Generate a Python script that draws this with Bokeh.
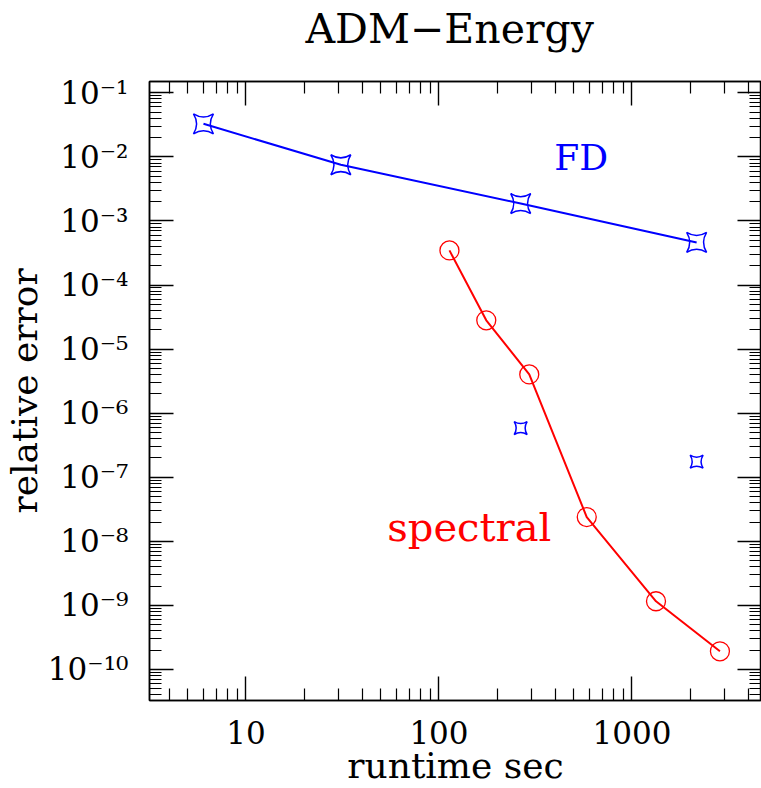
import math
from bokeh.plotting import figure
from bokeh.models import LogAxis, FixedTicker, Range1d, Title
from bokeh.core.properties import value
from bokeh.embed import file_html
from bokeh.resources import INLINE

# ---- data ----
fd_runtime = [6.02, 31.0, 265.0, 2163.0]
fd_error = [3.28e-2, 7.53e-3, 1.87e-3, 4.62e-4]

fd_extra_runtime = [265.0, 2163.0]
fd_extra_error = [5.86e-7, 1.75e-7]

spec_runtime = [113.3, 175.8, 293.6, 583.0, 1332.0, 2856.0]
spec_error = [3.47e-4, 2.81e-5, 4.03e-6, 2.39e-8, 1.16e-9, 1.92e-10]

x_tick_values = [10, 100, 1000]
x_tick_labels = ["10", "100", "1000"]
y_tick_exponents = [-1, -2, -3, -4, -5, -6, -7, -8, -9, -10]

title_text = "ADM\u2212Energy"
x_label = "runtime sec"
y_label = "relative error"
fd_label = "FD"
fd_label_pos = (546.0, 9.8e-3)
spec_label = "spectral"
spec_label_pos = (143.6, 1.66e-8)

x_limits = (10 ** 0.5, 4690.0)
y_limits = (3.28e-11, 0.150)

FONT = "DejaVu Serif"
BLUE = "#0000ff"
RED = "#ff0000"

sup = str.maketrans("-0123456789", "\u207b\u2070\u00b9\u00b2\u00b3\u2074\u2075\u2076\u2077\u2078\u2079")
y_tick_values = [float("1e%d" % e) for e in y_tick_exponents]
y_tick_labels = ["10" + str(e).translate(sup) for e in y_tick_exponents]

x_minor = [m * 10.0 ** k for k in range(0, 4) for m in range(2, 10)
           if x_limits[0] <= m * 10.0 ** k <= x_limits[1]]
y_minor = [m * float("1e%d" % k) for k in range(-11, 0) for m in range(2, 10)
           if y_limits[0] <= m * float("1e%d" % k) <= y_limits[1]]

x_ticker = FixedTicker(ticks=x_tick_values, minor_ticks=x_minor)
y_ticker = FixedTicker(ticks=y_tick_values, minor_ticks=y_minor)

p = figure(width=761, height=788, x_axis_type="log", y_axis_type="log",
           x_range=Range1d(*x_limits), y_range=Range1d(*y_limits),
           output_backend="svg", toolbar_location=None,
           min_border_left=148, min_border_right=0, min_border_top=81,
           min_border_bottom=88)

p.background_fill_color = "white"
p.border_fill_color = "white"
p.outline_line_color = "black"
p.outline_line_width = 1.5
p.xgrid.grid_line_color = None
p.ygrid.grid_line_color = None

p.title.text = title_text
p.title.text_font = FONT
p.title.text_font_size = "41px"
p.title.text_font_style = "normal"
p.title.text_color = "black"
p.title.align = "left"
p.title.offset = 156
p.title.standoff = 2


def style_axis(ax, ticker, show_labels):
    ax.ticker = ticker
    ax.major_tick_in = 24
    ax.major_tick_out = 0
    ax.minor_tick_in = 12
    ax.minor_tick_out = 0
    ax.axis_line_color = "black"
    ax.axis_line_width = 1.5
    ax.major_tick_line_color = "black"
    ax.major_tick_line_width = 1.4
    ax.minor_tick_line_color = "black"
    ax.minor_tick_line_width = 1.2
    if not show_labels:
        ax.major_label_text_font_size = "1px"
        ax.major_label_text_color = None
        ax.major_label_standoff = 0


xa = p.xaxis[0]
style_axis(xa, x_ticker, True)
xa.major_label_overrides = {v: t for v, t in zip(x_tick_values, x_tick_labels)}
xa.major_label_text_font = FONT
xa.major_label_text_font_size = "31px"
xa.major_label_text_color = "black"
xa.major_label_standoff = 20
xa.axis_label = x_label
xa.axis_label_text_font = FONT
xa.axis_label_text_font_size = "36px"
xa.axis_label_text_font_style = "normal"
xa.axis_label_text_color = "black"
xa.axis_label_standoff = -2

ya = p.yaxis[0]
style_axis(ya, y_ticker, True)
ya.major_label_overrides = {v: t for v, t in zip(y_tick_values, y_tick_labels)}
ya.major_label_text_font = FONT
ya.major_label_text_font_size = "31px"
ya.major_label_text_color = "black"
ya.major_label_standoff = 21
ya.axis_label = y_label
ya.axis_label_text_font = FONT
ya.axis_label_text_font_size = "36px"
ya.axis_label_text_font_style = "normal"
ya.axis_label_text_color = "black"
ya.axis_label_standoff = 0

# top axis first (next to the frame), then an empty spacer below the title
top = LogAxis()
style_axis(top, x_ticker, False)
p.add_layout(top, "above")
p.add_layout(Title(text=" ", text_font_size="1px", text_color="white", standoff=25), "above")

right = LogAxis()
style_axis(right, y_ticker, False)
p.add_layout(right, "right")

# ---- FD series ----
p.line(fd_runtime, fd_error, line_color=BLUE, line_width=2)
p.scatter(fd_runtime, fd_error, marker="square_pin", size=20,
          fill_color=None, line_color=BLUE, line_width=1.5)
p.scatter(fd_extra_runtime, fd_extra_error, marker="square_pin", size=13,
          fill_color=None, line_color=BLUE, line_width=1.5)

# ---- spectral series ----
p.line(spec_runtime, spec_error, line_color=RED, line_width=2)
p.scatter(spec_runtime, spec_error, marker="circle", size=19,
          fill_color=None, line_color=RED, line_width=1.3)

p.text(x=[fd_label_pos[0]], y=[fd_label_pos[1]], text=[fd_label],
       text_font=value(FONT), text_font_size="36px", text_color=BLUE,
       text_align="center", text_baseline="middle")
p.text(x=[spec_label_pos[0]], y=[spec_label_pos[1]], text=[spec_label],
       text_font=value(FONT), text_font_size="40px", text_color=RED,
       text_align="center", text_baseline="middle")

open("out.html", "w").write(file_html(p, INLINE))
